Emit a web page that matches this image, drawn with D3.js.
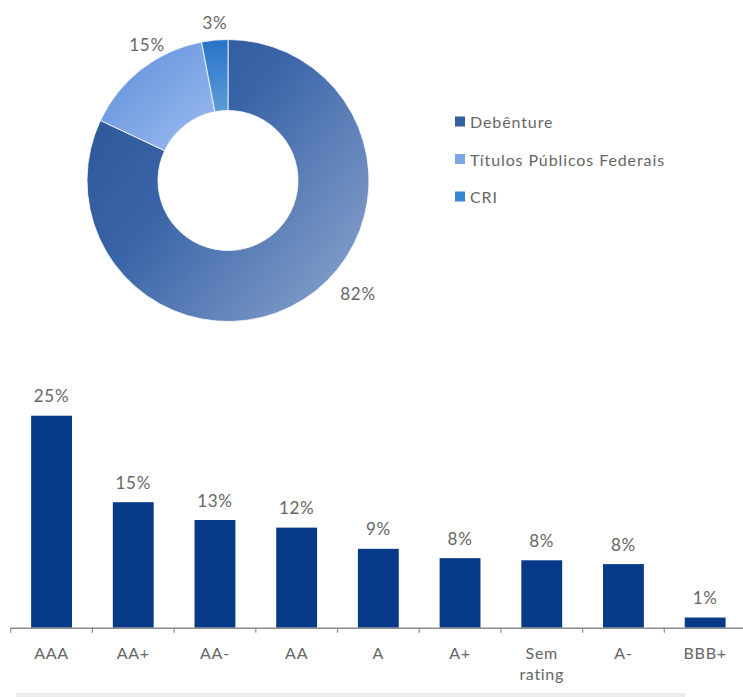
<!DOCTYPE html>
<html><head><meta charset="utf-8">
<script src="https://cdn.jsdelivr.net/npm/d3@7/dist/d3.min.js"></script>
<style>
body{margin:0;background:#fff;}
svg{display:block;font-family:Lato,"Open Sans",sans-serif;font-weight:400;letter-spacing:0.7px;}
</style></head>
<body><svg id="c" width="743" height="697"></svg>
<script>
const pieCategories = ["Debênture","Títulos Públicos Federais","CRI"];
const pieValues = [82, 15, 3];
const pieLabels = ["82%","15%","3%"];

const barCategories = ["AAA","AA+","AA-","AA","A","A+","Sem rating","A-","BBB+"];
const barValues = [25.0, 14.8, 12.7, 11.8, 9.3, 8.2, 7.95, 7.5, 1.2];
const barLabels = ["25%","15%","13%","12%","9%","8%","8%","8%","1%"];

const svg = d3.select("#c");
const defs = svg.append("defs");
function grad(id, x1,y1,x2,y2, stops){
  const g = defs.append("linearGradient").attr("id",id)
    .attr("x1",x1).attr("y1",y1).attr("x2",x2).attr("y2",y2);
  stops.forEach(s=>g.append("stop").attr("offset",s[0]).attr("stop-color",s[1]));
}
grad("g0","0","0.2","1","1",[[0,"#2d5697"],[0.35,"#3a64a8"],[1,"#8fa8cf"]]);
grad("g1","0","0","1","1",[[0,"#5c8cdb"],[1,"#9dbdef"]]);
grad("g2","0","0","0","1",[[0,"#2872c8"],[1,"#5b9cd9"]]);
const fills = ["url(#g0)","url(#g1)","url(#g2)"];
const legendFills = ["#34609f","#7aa6e6","#3a86d2"];
const textColor = "#666666";

// Donut
const cx = 228, cy = 180.5, R = 141, r = 70;
const pie = d3.pie().sort(null).value(d=>d);
const arcs = pie(pieValues);
const arc = d3.arc().innerRadius(r).outerRadius(R);
const gP = svg.append("g").attr("transform",`translate(${cx},${cy})`);
gP.selectAll("path").data(arcs).join("path")
  .attr("d",arc).attr("fill",(d,i)=>fills[i])
  .attr("stroke","#fff").attr("stroke-width",0.8);

const labelPos = [[358,293],[147,44],[215,22]];
svg.selectAll("text.pl").data(arcs).join("text").attr("class","pl")
  .attr("x",(d,i)=>labelPos[i][0]).attr("y",(d,i)=>labelPos[i][1])
  .attr("text-anchor","middle").attr("dominant-baseline","central")
  .attr("font-size",17).attr("fill",textColor)
  .text((d,i)=>pieLabels[i]);

// Legend
const lg = svg.append("g");
pieCategories.forEach((c,i)=>{
  const y = 121.5 + i*37.5;
  lg.append("rect").attr("x",455).attr("y",y-5).attr("width",10).attr("height",10).attr("fill",legendFills[i]);
  lg.append("text").attr("x",470).attr("y",y).attr("dominant-baseline","central")
    .attr("font-size",16).attr("letter-spacing","0.9px").attr("fill",textColor).text(c);
});

// Bar chart
const baseY = 627.7;
const x = d3.scaleBand().domain(barCategories).range([10.7, 746]).paddingInner(0.5).paddingOuter(0.25);
const y = d3.scaleLinear().domain([0, 25]).range([baseY, 415.7]);
const gB = svg.append("g");
gB.selectAll("rect").data(barValues).join("rect")
  .attr("x",(d,i)=>x(barCategories[i])).attr("width",x.bandwidth())
  .attr("y",d=>y(d)).attr("height",d=>baseY-y(d))
  .attr("fill","#063987");
gB.selectAll("text.v").data(barValues).join("text").attr("class","v")
  .attr("x",(d,i)=>x(barCategories[i])+x.bandwidth()/2)
  .attr("y",d=>y(d)-20).attr("text-anchor","middle").attr("dominant-baseline","central")
  .attr("font-size",17).attr("fill",textColor)
  .text((d,i)=>barLabels[i]);

// axis
const step = x.step();
const edges = d3.range(barCategories.length+1).map(i=>10.7 + i*step);
gB.append("line").attr("x1",10.7).attr("x2",746).attr("y1",baseY+0.5).attr("y2",baseY+0.5)
  .attr("stroke","#8c8c8c").attr("stroke-width",1.5);
gB.selectAll("line.t").data(edges).join("line").attr("class","t")
  .attr("x1",d=>d).attr("x2",d=>d).attr("y1",baseY).attr("y2",baseY+5)
  .attr("stroke","#8c8c8c").attr("stroke-width",1.2);
barCategories.forEach((c,i)=>{
  const t = gB.append("text").attr("x",x(c)+x.bandwidth()/2).attr("y",651.7)
    .attr("text-anchor","middle").attr("dominant-baseline","central")
    .attr("font-size",16).attr("fill",textColor);
  const words = c.split(" ");
  words.forEach((w,j)=>t.append("tspan").attr("x",x(c)+x.bandwidth()/2).attr("dy",j===0?0:21.5).text(w));
});

// bottom gray band
svg.append("rect").attr("x",16).attr("y",693).attr("width",669).attr("height",4).attr("fill","#ebebeb");
</script></body></html>
